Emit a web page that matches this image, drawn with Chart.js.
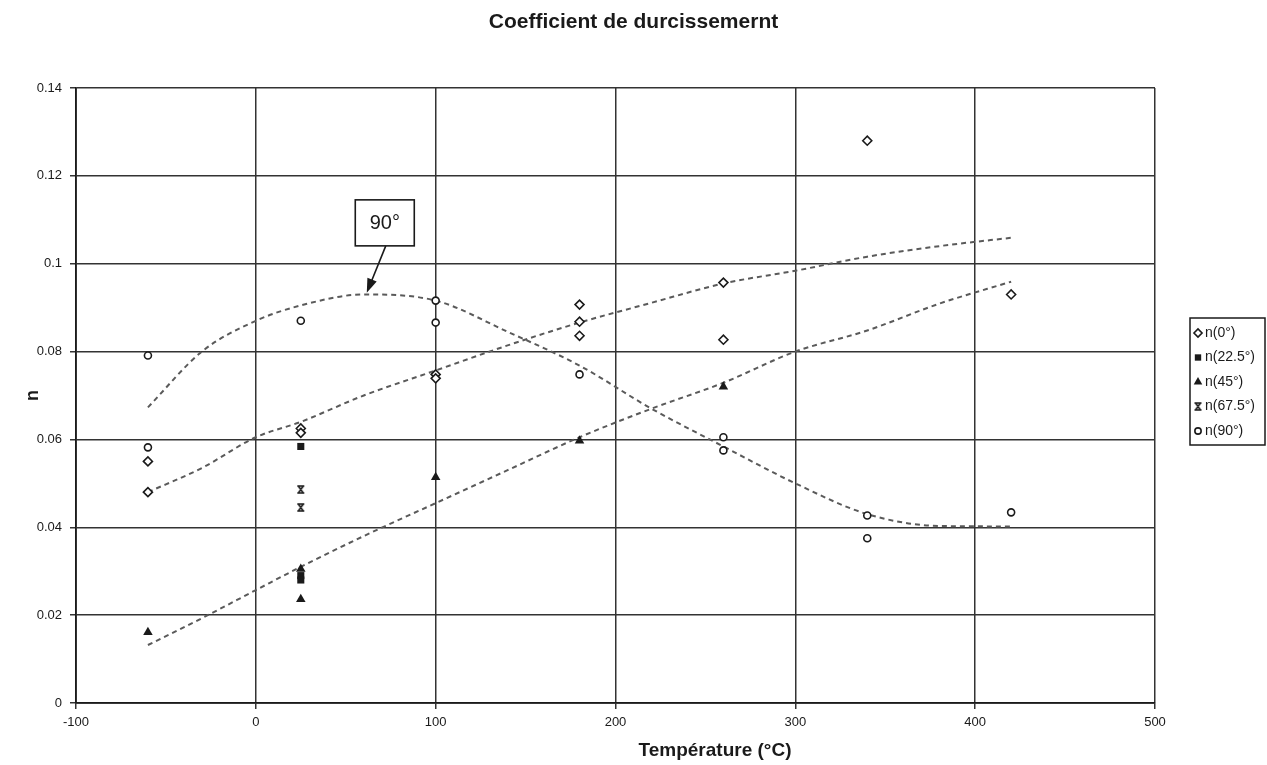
<!DOCTYPE html>
<html>
<head>
<meta charset="utf-8">
<title>Coefficient de durcissement</title>
<script src="https://cdn.jsdelivr.net/npm/chart.js@4.4.1/dist/chart.umd.min.js"></script>
<style>
  html, body { margin: 0; padding: 0; background: #fff; }
  #wrap { width: 1267px; height: 765px; }
</style>
</head>
<body>
<div id="wrap"><canvas id="myChart"></canvas></div>
<script>
// Measured hardening exponent n versus test temperature, one series per orientation
var temps0 = [-60, -60, 25, 25, 100, 100, 180, 180, 180, 260, 260, 340, 420];
var n0 = [0.055, 0.048, 0.0625, 0.0615, 0.0748, 0.0739, 0.0907, 0.0868, 0.0836, 0.0957, 0.0827, 0.128, 0.093];

var temps225 = [25, 25, 25];
var n225 = [0.0584, 0.029, 0.028];

var temps45 = [-60, 25, 25, 100, 180, 260];
var n45 = [0.0161, 0.0305, 0.0236, 0.0514, 0.0597, 0.072];

var temps675 = [25, 25];
var n675 = [0.0486, 0.0445];

var temps90 = [-60, -60, 25, 100, 100, 180, 260, 260, 340, 340, 420];
var n90 = [0.0791, 0.0582, 0.087, 0.0916, 0.0866, 0.0748, 0.0605, 0.0575, 0.0427, 0.0375, 0.0434];

// Trend curves (dashed), read at these temperatures
var trendTemps = [-60, -30, 0, 25, 60, 100, 140, 180, 220, 260, 300, 340, 380, 420];
var trend0 = [0.048, 0.0535, 0.0605, 0.064, 0.070, 0.0757, 0.0814, 0.0866, 0.0911, 0.0955, 0.0984, 0.1016, 0.104, 0.1059];
var trend45 = [0.0132, 0.0193, 0.0257, 0.031, 0.038, 0.0455, 0.053, 0.0605, 0.067, 0.0729, 0.080, 0.0848, 0.0909, 0.0959];
var trend90 = [0.0673, 0.080, 0.087, 0.0905, 0.093, 0.0916, 0.0845, 0.0768, 0.067, 0.0584, 0.050, 0.043, 0.0403, 0.0402];

var yTickLabels = ['0', '0.02', '0.04', '0.06', '0.08', '0.1', '0.12', '0.14'];
var xTickLabels = ['-100', '0', '100', '200', '300', '400', '500'];
var seriesNames = ['n(0°)', 'n(22.5°)', 'n(45°)', 'n(67.5°)', 'n(90°)'];
var xTitle = 'Température (°C)';

// callout "90°" pointing at the 90° trend curve
var calloutText = '90°';
var calloutAt = { temp: 71.7, n: 0.1093 };
var calloutTip = { temp: 61.7, n: 0.0934 };

var ink = '#1a1a1a';
var trendColor = '#5a5a5a';
var fontFamily = '"Liberation Sans", Arial, sans-serif';

Chart.defaults.font.family = fontFamily;
Chart.defaults.color = ink;

function pairs(xs, ys) {
  return xs.map(function (t, i) { return { x: t, y: ys[i] }; });
}

// small "x with bars" marker
function hourglassMark() {
  var cv = document.createElement('canvas');
  cv.width = 9;
  cv.height = 9;
  var g = cv.getContext('2d');
  g.strokeStyle = ink;
  g.lineWidth = 1.6;
  g.beginPath();
  g.moveTo(1, 1); g.lineTo(8, 1);
  g.moveTo(1, 8); g.lineTo(8, 8);
  g.moveTo(2, 1); g.lineTo(7, 8);
  g.moveTo(7, 1); g.lineTo(2, 8);
  g.stroke();
  return cv;
}

function trendSet(ys) {
  return {
    data: pairs(trendTemps, ys),
    showLine: true,
    borderColor: trendColor,
    borderWidth: 2,
    borderDash: [5, 4],
    cubicInterpolationMode: 'monotone',
    pointRadius: 0,
    fill: false,
    order: 1
  };
}

var legendBox = {
  id: 'legendBox',
  afterDraw: function (chart) {
    var c = chart.ctx;
    c.save();
    c.fillStyle = '#fff';
    c.fillRect(1190, 318, 75, 127);
    c.strokeStyle = ink;
    c.lineWidth = 1.5;
    c.strokeRect(1190, 318, 75, 127);
    c.font = '14px ' + fontFamily;
    c.textBaseline = 'middle';
    seriesNames.forEach(function (name, i) {
      var ds = chart.data.datasets[i];
      var y = 333 + i * 24.5;
      c.fillStyle = ds.backgroundColor;
      c.strokeStyle = ds.borderColor;
      c.lineWidth = ds.borderWidth;
      Chart.helpers.drawPoint(c, {
        pointStyle: ds.pointStyle,
        radius: ds.pointRadius * 0.9,
        borderWidth: ds.borderWidth,
        rotation: 0
      }, 1198, y);
      c.fillStyle = ink;
      c.textAlign = 'left';
      c.fillText(name, 1205, y);
    });
    c.restore();
  }
};

// x axis title sits right of the plot centre
var xAxisTitle = {
  id: 'xAxisTitle',
  afterDraw: function (chart) {
    var c = chart.ctx;
    c.save();
    c.fillStyle = ink;
    c.font = 'bold 19px ' + fontFamily;
    c.textAlign = 'center';
    c.textBaseline = 'middle';
    c.fillText(xTitle, 715, 751);
    c.restore();
  }
};

var callout = {
  id: 'callout',
  afterDatasetsDraw: function (chart) {
    var xs = chart.scales.x, ys = chart.scales.y, c = chart.ctx;
    var bx = xs.getPixelForValue(calloutAt.temp);
    var by = ys.getPixelForValue(calloutAt.n);
    var tx = xs.getPixelForValue(calloutTip.temp);
    var ty = ys.getPixelForValue(calloutTip.n);
    var w = 59, h = 46;
    c.save();
    // arrow shaft from the bottom of the box
    var sx = bx + 1, sy = by + h / 2;
    var ang = Math.atan2(ty - sy, tx - sx);
    c.strokeStyle = ink;
    c.lineWidth = 1.6;
    c.beginPath();
    c.moveTo(sx, sy);
    c.lineTo(tx - Math.cos(ang) * 10, ty - Math.sin(ang) * 10);
    c.stroke();
    c.fillStyle = ink;
    c.beginPath();
    c.moveTo(tx, ty);
    c.lineTo(tx - Math.cos(ang) * 14 + Math.sin(ang) * 5, ty - Math.sin(ang) * 14 - Math.cos(ang) * 5);
    c.lineTo(tx - Math.cos(ang) * 14 - Math.sin(ang) * 5, ty - Math.sin(ang) * 14 + Math.cos(ang) * 5);
    c.closePath();
    c.fill();
    // box
    c.fillStyle = '#fff';
    c.fillRect(bx - w / 2, by - h / 2, w, h);
    c.lineWidth = 1.6;
    c.strokeRect(bx - w / 2, by - h / 2, w, h);
    c.fillStyle = ink;
    c.font = '20px ' + fontFamily;
    c.textAlign = 'center';
    c.textBaseline = 'middle';
    c.fillText(calloutText, bx, by + 1);
    c.restore();
  }
};

var ctx = document.getElementById('myChart').getContext('2d');
var chart = new Chart(ctx, {
  type: 'scatter',
  data: {
    datasets: [
      {
        label: seriesNames[0],
        data: pairs(temps0, n0),
        pointStyle: 'rectRot',
        pointRadius: 4.5,
        borderWidth: 1.6,
        borderColor: ink,
        backgroundColor: '#fff',
        order: 0
      },
      {
        label: seriesNames[1],
        data: pairs(temps225, n225),
        pointStyle: 'rect',
        pointRadius: 5,
        borderWidth: 0,
        borderColor: ink,
        backgroundColor: ink,
        order: 0
      },
      {
        label: seriesNames[2],
        data: pairs(temps45, n45),
        pointStyle: 'triangle',
        pointRadius: 5.5,
        borderWidth: 0,
        borderColor: ink,
        backgroundColor: ink,
        order: 0
      },
      {
        label: seriesNames[3],
        data: pairs(temps675, n675),
        pointStyle: hourglassMark(),
        pointRadius: 4.5,
        borderWidth: 0,
        borderColor: ink,
        backgroundColor: ink,
        order: 0
      },
      {
        label: seriesNames[4],
        data: pairs(temps90, n90),
        pointStyle: 'circle',
        pointRadius: 3.5,
        borderWidth: 1.6,
        borderColor: ink,
        backgroundColor: '#fff',
        order: 0
      },
      trendSet(trend0),
      trendSet(trend45),
      trendSet(trend90)
    ]
  },
  options: {
    responsive: true,
    maintainAspectRatio: false,
    animation: false,
    layout: {
      padding: 0
    },
    plugins: {
      legend: { display: false },
      tooltip: { enabled: false },
      title: {
        display: true,
        text: 'Coefficient de durcissemernt',
        color: ink,
        font: { size: 21, weight: 'bold' },
        padding: { top: 9.5, bottom: 53.3 }
      }
    },
    scales: {
      x: {
        type: 'linear',
        min: -100,
        max: 500,
        ticks: {
          stepSize: 100,
          color: ink,
          font: { size: 13 },
          padding: 6,
          maxRotation: 0,
          callback: function (v, i) { return xTickLabels[i]; }
        },
        grid: { color: '#333', lineWidth: 1.5, tickLength: 6, tickColor: '#333' },
        border: { color: ink, width: 1.8 },
        afterFit: function (scale) { scale.height = 62; }
      },
      y: {
        type: 'linear',
        min: 0,
        max: 0.14,
        ticks: {
          stepSize: 0.02,
          color: ink,
          font: { size: 13 },
          padding: 8,
          callback: function (v, i) { return yTickLabels[i]; }
        },
        grid: { color: '#333', lineWidth: 1.5, tickLength: 6, tickColor: '#333' },
        border: { color: ink, width: 1.8 },
        title: {
          display: true,
          text: 'n',
          color: ink,
          font: { size: 18, weight: 'bold' },
          padding: { top: 22, bottom: 0 }
        },
        afterFit: function (scale) { scale.width = 76; }
      },
      // empty right-hand strip that keeps room for the legend box
      gap: {
        type: 'linear',
        position: 'right',
        grid: { display: false, drawTicks: false },
        ticks: { display: false },
        border: { display: false },
        afterFit: function (scale) { scale.width = 112; }
      }
    }
  },
  plugins: [callout, legendBox, xAxisTitle]
});
</script>
</body>
</html>
